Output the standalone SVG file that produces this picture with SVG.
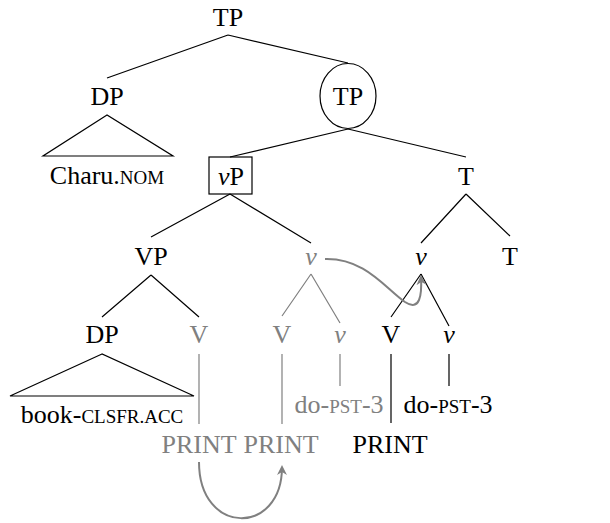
<svg xmlns="http://www.w3.org/2000/svg" width="610" height="523" viewBox="0 0 610 523">
  <style>
    text { font-family: "Liberation Serif", "Times New Roman", serif; font-size: 26px; text-anchor: middle; fill: #000; }
    .g { fill: #808080; }
    .it { font-style: italic; }
    .sc { font-size: 19px; }
    .e { stroke: #000; stroke-width: 1.2; fill: none; }
    .eg { stroke: #808080; stroke-width: 1.2; fill: none; }
    .mv { stroke: #808080; stroke-width: 2; fill: none; }
  </style>
  <defs>
    <marker id="ah" viewBox="0 0 10 10" refX="8" refY="5" markerWidth="5" markerHeight="5" orient="auto">
      <path d="M0,0 L10,5 L0,10 L3,5 Z" fill="#808080"/>
    </marker>
  </defs>

  <!-- tree branches -->
  <g id="connectors">
    <path class="e" d="M228,35 L107,78 M228,35 L348,63"/>
    <path class="e" d="M348,129 L230,157 M348,129 L466,157"/>
    <path class="e" d="M230,194 L151,237 M230,194 L311,243"/>
    <path class="e" d="M466,194 L421,243 M466,194 L510,236"/>
    <path class="e" d="M151,275 L102,317 M151,275 L199,317"/>
    <path class="eg" d="M311,274 L282,316 M311,274 L340,323"/>
    <path class="e" d="M421,274 L391,317 M421,274 L449,326"/>
    <path class="e" d="M107,115 L43,156 L173,156 Z"/>
    <path class="e" d="M102,354 L10,396 L194,396 Z"/>
    <path class="eg" d="M199,354 L199,424 M282,354 L282,424 M340,354 L340,386"/>
    <path class="e" d="M391,354 L391,423 M449,354 L449,386"/>
    <!-- head movement -->
    <path class="mv" marker-end="url(#ah)" d="M325,259 C365,258 385,288 405,302 C420,312 422,295 421,277"/>
    <path class="mv" marker-end="url(#ah)" d="M199,462 C199,536 282,536 282,467"/>
  </g>

  <g id="tp-root"><text x="228" y="26">TP</text></g>
  <g id="dp-subj"><text x="107" y="105">DP</text></g>
  <g id="charu"><text x="107" y="184">Charu.<tspan class="sc">NOM</tspan></text></g>
  <g id="tp-bar">
    <ellipse cx="348" cy="96" rx="28" ry="32.5" class="e"/>
    <text x="348" y="105">TP</text>
  </g>
  <g id="vp-little">
    <rect x="209" y="157" width="43" height="37" class="e"/>
    <text x="231" y="185"><tspan class="it">v</tspan>P</text>
  </g>
  <g id="t-bar"><text x="466" y="185">T</text></g>
  <g id="vp"><text x="151" y="265">VP</text></g>
  <g id="v-low"><text x="311" y="265" class="g it">v</text></g>
  <g id="v-high"><text x="421" y="265" class="it">v</text></g>
  <g id="t-head"><text x="510" y="265">T</text></g>
  <g id="dp-obj"><text x="102" y="343">DP</text></g>
  <g id="v1"><text x="199" y="343" class="g">V</text></g>
  <g id="v2"><text x="282" y="343" class="g">V</text></g>
  <g id="lv2"><text x="340" y="343" class="g it">v</text></g>
  <g id="v3"><text x="391" y="343">V</text></g>
  <g id="lv3"><text x="449" y="343" class="it">v</text></g>
  <g id="book"><text x="102" y="423">book-<tspan class="sc">CLSFR.ACC</tspan></text></g>
  <g id="do-gray"><text x="339" y="413" class="g">do-<tspan class="sc">PST</tspan>-3</text></g>
  <g id="do-black"><text x="448" y="413">do-<tspan class="sc">PST</tspan>-3</text></g>
  <g id="print1"><text x="199" y="453" class="g">PRINT</text></g>
  <g id="print2"><text x="281" y="453" class="g">PRINT</text></g>
  <g id="print3"><text x="390" y="453">PRINT</text></g>
</svg>
